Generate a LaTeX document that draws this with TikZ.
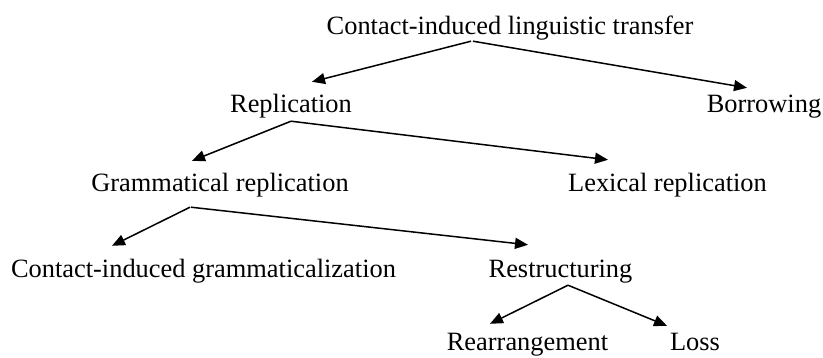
\documentclass[tikz,border=0pt]{standalone}
\usepackage{fontspec}
\setmainfont{Liberation Serif}
\usetikzlibrary{positioning,arrows.meta}

\begin{document}
\begin{tikzpicture}[x=1pt,y=1pt,on grid,
    term/.style={font=\fontsize{26.4}{30}\selectfont, inner sep=0pt,
      text height=18pt, text depth=6pt},
    link/.style={-{Triangle[length=13pt,width=11pt]}, line width=1.5pt}]

    \useasboundingbox (0,0) rectangle (823,-358);

    %% levels of the tree
    \node[term] (Transfer) at (510,-29) {Contact-induced linguistic transfer};

    \node[term] (Replication) [below left=78pt and 219pt of Transfer] {Replication};
    \node[term] (Borrowing) [below right=78pt and 254pt of Transfer] {Borrowing};

    \node[term] (GramRep) [below left=79pt and 71pt of Replication] {Grammatical replication};
    \node[term] (LexRep) [below right=79pt and 376.5pt of Replication] {Lexical replication};

    \node[term] (Gramm) [below left=86pt and 16.5pt of GramRep] {Contact-induced grammaticalization};
    \node[term] (Restruct) [below right=86pt and 340.5pt of GramRep] {Restructuring};

    \node[term] (Rearr) [below left=73pt and 33pt of Restruct] {Rearrangement};
    \node[term] (Loss) [below right=73pt and 134.5pt of Restruct] {Loss};

    %% arrows
    \draw[link] ([xshift=-39pt]Transfer.south) -- ([xshift=21pt,yshift=13pt]Replication.north);
    \draw[link] ([xshift=-37pt]Transfer.south) -- ([xshift=-17pt,yshift=7pt]Borrowing.north);

    \draw[link] ([yshift=-2pt]Replication.south) -- ([xshift=-28pt,yshift=13pt]GramRep.north);
    \draw[link] ([yshift=-2pt]Replication.south) -- ([xshift=-59.5pt,yshift=14pt]LexRep.north);

    \draw[link] ([xshift=-30pt,yshift=-9pt]GramRep.south) -- ([xshift=-91.5pt,yshift=14pt]Gramm.north);
    \draw[link] ([xshift=-29pt,yshift=-9pt]GramRep.south) -- ([xshift=-32.5pt,yshift=15pt]Restruct.north);

    \draw[link] ([xshift=7.5pt,yshift=-1pt]Restruct.south) -- ([xshift=-37.5pt,yshift=9pt]Rearr.north);
    \draw[link] ([xshift=7.5pt,yshift=-1pt]Restruct.south) -- ([xshift=-28pt,yshift=7pt]Loss.north);

\end{tikzpicture}
\end{document}
